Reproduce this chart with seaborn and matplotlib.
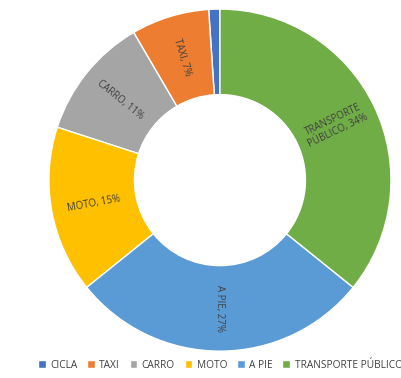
import numpy as np
import matplotlib
matplotlib.use("Agg")
import matplotlib.pyplot as plt
import seaborn as sns

# datos del gráfico (orden de la leyenda)
categorias = ["CICLA", "TAXI", "CARRO", "MOTO", "A PIE", "TRANSPORTE PÚBLICO"]
etiquetas = ["", "TAXI, 7%", "CARRO, 11%", "MOTO, 15%", "A PIE, 27%", "TRANSPORTE\nPÚBLICO, 34%"]
valores = [1, 7, 11, 15, 27, 34]
colores = ["#4472C4", "#ED7D31", "#A5A5A5", "#FFC000", "#5B9BD5", "#70AD47"]

sns.set_theme(style="white")
plt.rcParams["font.family"] = ["Open Sans", "DejaVu Sans"]

fig = plt.figure(figsize=(4.01, 3.78), dpi=100)
ax = fig.add_axes([0.122, 0.071, 0.853, 0.905])

wedges, _ = ax.pie(
    valores,
    colors=sns.color_palette(colores),
    startangle=90,
    counterclock=True,
    radius=1,
    wedgeprops=dict(width=0.5, edgecolor="white", linewidth=1))

# etiquetas radiales dentro del anillo
for w, txt in zip(wedges, etiquetas):
    if not txt:
        continue
    ang = (w.theta1 + w.theta2) / 2
    r = 0.75
    x, y = r * np.cos(np.radians(ang)), r * np.sin(np.radians(ang))
    rot = ang
    if 90 < ang % 360 < 270:
        rot = ang - 180
    ax.text(x, y, txt, ha="center", va="center", rotation=rot,
            rotation_mode="anchor", fontsize=7, color="#404040",
            linespacing=1.1)

ax.set_xlim(-1, 1)
ax.set_ylim(-1, 1)
ax.set_aspect("equal")
ax.axis("off")

fig.legend(wedges, categorias, loc="center left", bbox_to_anchor=(0.095, 0.034),
           ncol=6, frameon=False, fontsize=7.3, handlelength=0.75,
           handleheight=0.75, handletextpad=0.45, columnspacing=0.95,
           borderaxespad=0, borderpad=0, labelcolor="#404040")

fig.savefig("out.png", dpi=100, facecolor="white")
